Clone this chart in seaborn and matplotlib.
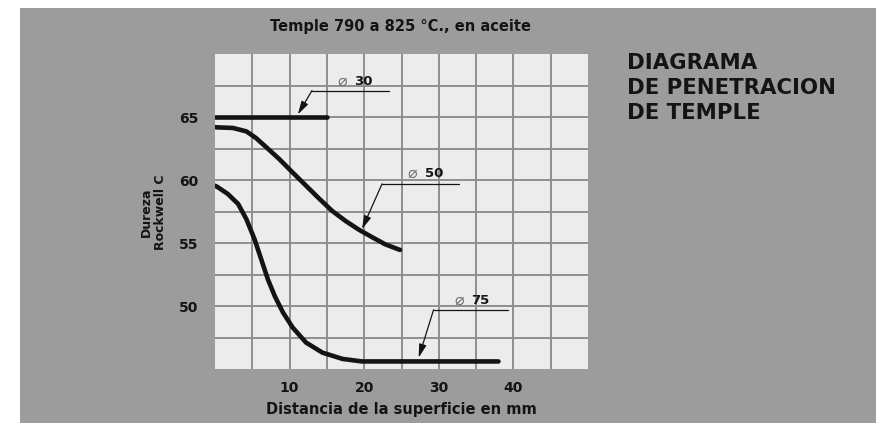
import numpy as np
import pandas as pd
import matplotlib.pyplot as plt
import matplotlib.patches as mpatches
import seaborn as sns

# ======================
# Datos leidos del diagrama
# ======================
# diametro 30 mm
d30_x = [0, 15]
d30_y = [65.0, 65.0]

# diametro 50 mm
d50_x = [0, 0.2, 2.4, 4.2, 5.5, 6.8, 8.6, 10.4, 12.2, 14.0, 15.7, 17.5, 19.3, 21.1, 22.8, 24.8]
d50_y = [64.2, 64.18, 64.13, 63.86, 63.33, 62.64, 61.67, 60.6, 59.55, 58.5, 57.55, 56.75,
         56.05, 55.45, 54.9, 54.45]

# diametro 75 mm
d75_x = [0, 0.4, 1.7, 3.1, 4.2, 5.3, 6.2, 7.1, 8.0, 9.1, 10.4, 12.2, 14.4, 17.1, 19.7, 38]
d75_y = [59.55, 59.42, 58.9, 58.1, 56.9, 55.3, 53.7, 52.1, 50.8, 49.5, 48.3, 47.1, 46.3,
         45.8, 45.6, 45.6]

diam_labels = ["30", "50", "75"]

x_ticks = [10, 20, 30, 40]
y_ticks = [50, 55, 60, 65]

title = "Temple 790 a 825 °C., en aceite"
x_label = "Distancia de la superficie en mm"
y_label = "Dureza\nRockwell C"
side_title = "DIAGRAMA\nDE PENETRACION\nDE TEMPLE"

df = pd.concat([
    pd.DataFrame({"x": d30_x, "y": d30_y, "diam": "30"}),
    pd.DataFrame({"x": d50_x, "y": d50_y, "diam": "50"}),
    pd.DataFrame({"x": d75_x, "y": d75_y, "diam": "75"}),
])

# ======================
# Estilo
# ======================
sns.set_theme(style="white")
plt.rcParams["font.family"] = ["DejaVu Sans"]
plt.rcParams["font.weight"] = "bold"

ink = "#141414"
bg_grey = "#9c9c9c"

fig = plt.figure(figsize=(8.86, 4.27), dpi=100)
fig.patch.set_facecolor("white")
fig.add_artist(mpatches.Rectangle((20 / 886, 3 / 427), 856 / 886, 415 / 427,
                                  transform=fig.transFigure, facecolor=bg_grey,
                                  edgecolor="none", zorder=-5))

ax = fig.add_axes([215 / 886, 57 / 427, 373 / 886, 315 / 427])
ax.set_zorder(2)
ax.set_facecolor("#ececec")

sns.lineplot(data=df, x="x", y="y", units="diam", estimator=None, sort=False,
             color=ink, linewidth=3.3, ax=ax, legend=False, zorder=3)
for ln in ax.get_lines():
    ln.set_solid_capstyle("round")
    ln.set_solid_joinstyle("round")

ax.set_xlim(0, 50)
ax.set_ylim(45, 70)
ax.set_xticks(x_ticks)
ax.set_yticks(y_ticks)
ax.set_xticks(np.arange(5, 50, 5), minor=True)
ax.set_yticks(np.arange(47.5, 70, 2.5), minor=True)
ax.grid(which="both", color="#8f8f8f", linewidth=1.4)
ax.set_axisbelow(True)
ax.tick_params(which="both", length=0)
ax.tick_params(axis="x", pad=8, labelsize=10, labelcolor=ink)
ax.tick_params(axis="y", pad=12, labelsize=10, labelcolor=ink)
for s in ax.spines.values():
    s.set_visible(False)

ax.set_xlabel(x_label, fontsize=10.5, fontweight="bold", color=ink, labelpad=5)
ax.set_ylabel(y_label, fontsize=9, fontweight="bold", color=ink, linespacing=1.15)
ax.yaxis.set_label_coords(-0.128, 0.5)

fig.text(400 / 886, 1 - 27 / 427, title, ha="center", va="center",
         fontsize=10.5, fontweight="bold", color=ink)
fig.text(627 / 886, 1 - 53 / 427, side_title, ha="left", va="top",
         fontsize=15.3, fontweight="bold", color=ink, linespacing=1.3)

# ======================
# Rotulos con flecha
# ======================
# (texto x, texto y, linea x0, linea x1, linea y, punta x, punta y)
callouts = [
    (17.0, 67.9, 13.0, 23.3, 67.1, 11.1, 65.2),
    (26.5, 60.6, 22.4, 32.7, 59.7, 19.7, 56.1),
    (32.7, 50.55, 29.3, 39.3, 49.7, 27.3, 45.9),
]
for lab, (tx, ty, lx0, lx1, ly, px, py) in zip(diam_labels, callouts):
    ax.plot([lx0, lx1], [ly, ly], color=ink, linewidth=0.9, zorder=4)
    ax.annotate("", xy=(px, py), xytext=(lx0, ly),
                arrowprops=dict(arrowstyle="-|>,head_length=0.8,head_width=0.22",
                                color=ink, linewidth=0.9, mutation_scale=10,
                                shrinkA=0, shrinkB=0), zorder=4)
    ax.text(tx, ty, "⌀", ha="center", va="center", fontsize=11.5,
            color="#6e6e6e", fontweight="normal", zorder=4)
    ax.text(tx + 1.6, ty, lab, ha="left", va="center", fontsize=9.5,
            color=ink, fontweight="bold", zorder=4)

fig.savefig("out.png", dpi=100)
